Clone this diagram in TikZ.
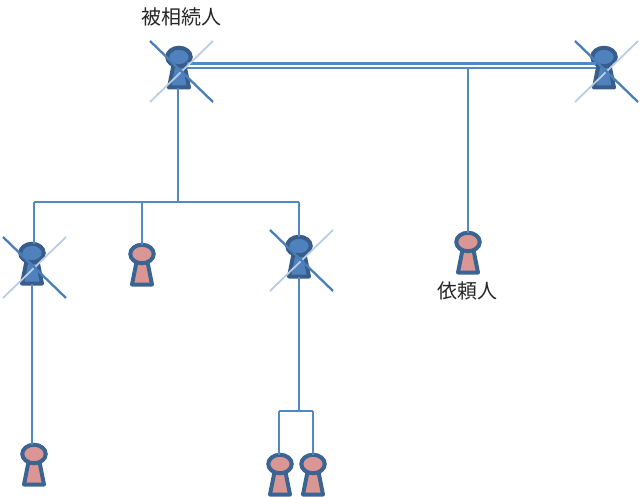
\documentclass[tikz,border=0pt]{standalone}
\usepackage{fontspec}
\newfontfamily\cjk{Noto Sans CJK JP}
\usetikzlibrary{shapes.geometric,calc}
\definecolor{linkc}{HTML}{5089C6}
\definecolor{bluefill}{HTML}{4F81BD}
\definecolor{bluedark}{HTML}{385D8A}
\definecolor{pinkfill}{HTML}{D99694}
\definecolor{pinkedge}{HTML}{3A6593}
\definecolor{lightx}{HTML}{B9CDE5}
\definecolor{darkx}{HTML}{4A7EBB}
\tikzset{
  link/.style={draw=linkc,line width=2.3pt},
  headshape/.style={ellipse,inner sep=0pt,minimum width=23.5pt,minimum height=18.5pt,line width=4pt},
  bodyshape/.style={line width=4pt,line join=round},
  deceased/.style={draw=bluedark,fill=bluefill},
  living/.style={draw=pinkedge,fill=pinkfill},
  labeltext/.style={font=\cjk\fontsize{20pt}{22pt}\selectfont,text=black!85,inner sep=0pt},
}
% name, x, y of head centre, style
\newcommand{\figperson}[4]{%
  \coordinate (#1) at (#2,#3);
  \coordinate (#1top) at (#2,#3-9);
  \coordinate (#1foot) at (#2,#3+31);
  \path[bodyshape,#4] (#2-5.5,#3+8) -- (#2+5.5,#3+8) -- (#2+10,#3+30.5) -- (#2-10,#3+30.5) -- cycle;
  \node[headshape,#4] (#1head) at (#2,#3) {};
}
\newcommand{\figcross}[3]{%
  \coordinate (#1a) at (#2-29,#3-16);
  \coordinate (#1b) at (#2+34,#3+45);
  \coordinate (#1c) at (#2+34,#3-16);
  \coordinate (#1d) at (#2-29,#3+45);
  \draw[lightx,line width=1.8pt] (#1c) -- (#1d);
  \draw[darkx,line width=2.3pt] (#1a) -- (#1b);
}
\begin{document}
\begin{tikzpicture}[x=1pt,y=-1pt]
\useasboundingbox (0,0) rectangle (640,497);
\figperson{dec}{179}{57}{deceased}
\figperson{spouse}{604}{57}{deceased}
\figperson{ca}{32}{253}{deceased}
\figperson{cb}{142}{254}{living}
\figperson{cc}{299}{246}{deceased}
\figperson{client}{468}{242}{living}
\figperson{ga}{34}{454}{living}
\figperson{gb}{280}{464}{living}
\figperson{gc}{313}{464}{living}
% connectors
\coordinate (dbl) at (468,68);
\coordinate (bus) at (178,202);
\coordinate (busl) at (34,202);
\coordinate (busm) at (142,202);
\coordinate (busr) at (299,202);
\coordinate (gbus) at (299,411);
\coordinate (gbusl) at (279,411);
\coordinate (gbusr) at (313,411);
\draw[link] ($(dec)+(8,6.5)$) -- ($(spouse)+(-8,6.5)$);
\draw[link] ($(dec)+(8,11)$) -- ($(spouse)+(-8,11)$);
\draw[link] (dbl) -- (clienttop);
\draw[link] ($(decfoot)+(-1,0)$) -- (bus);
\draw[link] (busl) -- (busr);
\draw[link] (busl) -- ($(catop)+(2,0)$);
\draw[link] (busm) -- (cbtop);
\draw[link] (busr) -- (cctop);
\draw[link] (cafoot) -- ($(gatop)+(-2,0)$);
\draw[link] (ccfoot) -- (gbus);
\draw[link] (gbusl) -- (gbusr);
\draw[link] (gbusl) -- ($(gbtop)+(-1,0)$);
\draw[link] (gbusr) -- (gctop);
\figcross{xa}{179}{57}
\figcross{xb}{604}{57}
\figcross{xc}{32}{253}
\figcross{xd}{299}{246}
\node[labeltext] (t1) at (181,17) {被相続人};
\node[labeltext] (t2) at (467,291) {依頼人};
\end{tikzpicture}
\end{document}
